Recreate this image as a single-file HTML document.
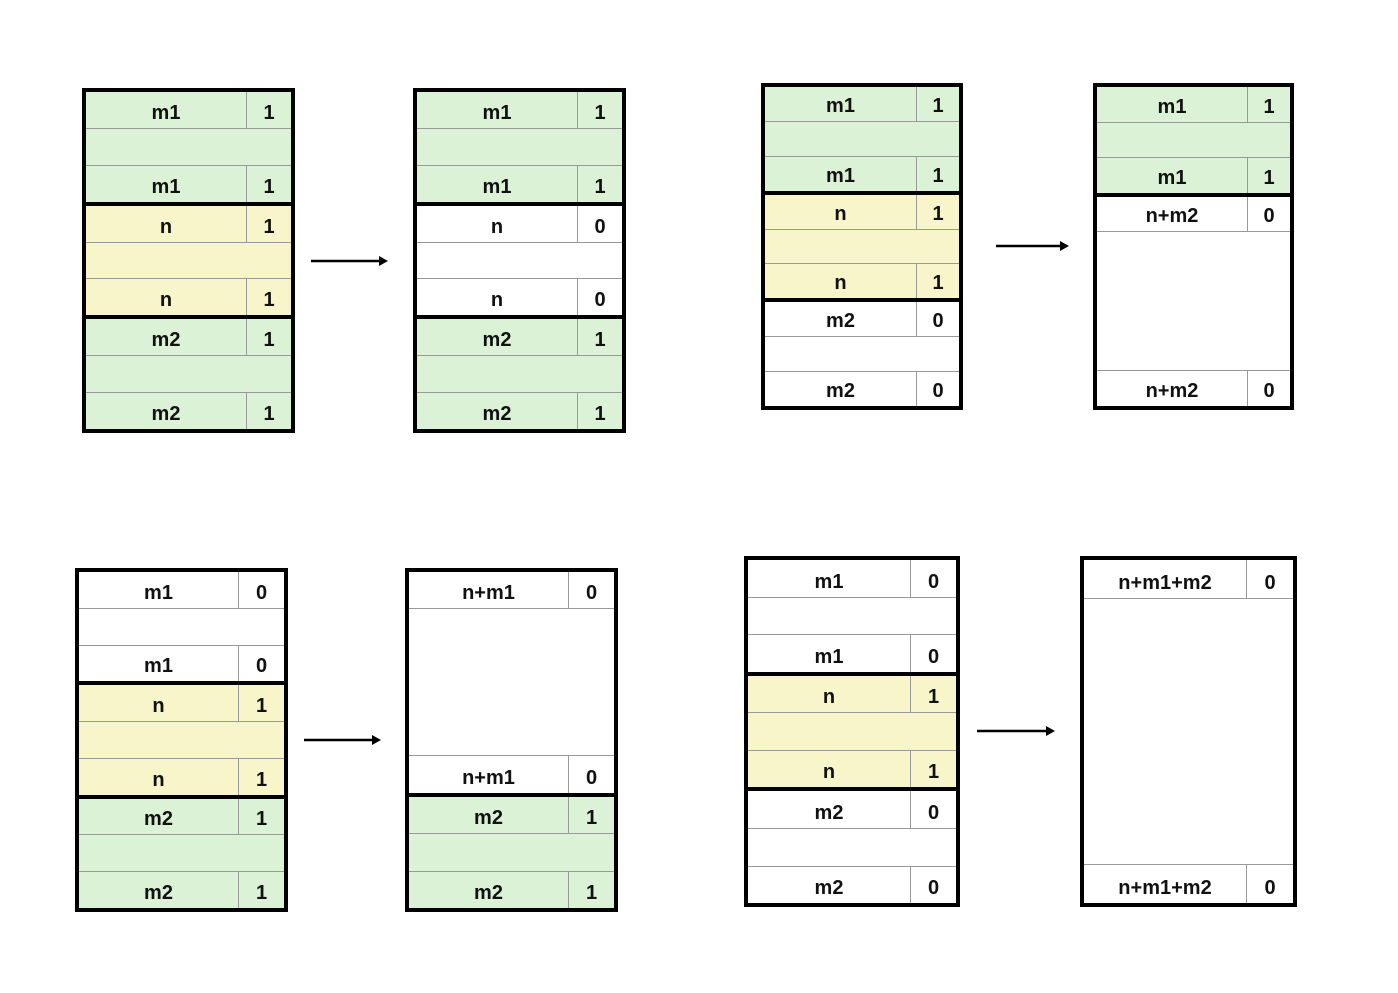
<!DOCTYPE html>
<html><head><meta charset="utf-8">
<style>
html,body{margin:0;padding:0;background:#fff;width:1398px;height:993px;overflow:hidden;position:relative;font-family:"Liberation Sans",sans-serif;}
.b{position:absolute;box-sizing:border-box;border:4px solid #000;display:flex;flex-direction:column;}
.r{flex:1 1 0;box-sizing:border-box;border-top:1px solid #999;display:flex;position:relative;font-weight:bold;font-size:20px;color:#111;}
.r:first-child{border-top:none;}
.r.t{border-top:4px solid #000;}
.r .a{flex:1;display:flex;align-items:flex-end;justify-content:center;padding-bottom:3px;box-sizing:border-box;}
.r .v{border-left:1px solid #999;display:flex;align-items:flex-end;justify-content:center;padding-bottom:3px;box-sizing:border-box;}
.g{background:#dcf2d7;}
.y{background:#f8f5cb;}
.w{background:#fff;}
svg{position:absolute;left:0;top:0;}
</style></head><body>

<!-- B1 -->
<div class="b" style="left:82px;top:88px;width:213px;height:345px;">
<div class="r g"><div class="a">m1</div><div class="v" style="width:45px">1</div></div>
<div class="r g"></div>
<div class="r g"><div class="a">m1</div><div class="v" style="width:45px">1</div></div>
<div class="r y t"><div class="a">n</div><div class="v" style="width:45px">1</div></div>
<div class="r y"></div>
<div class="r y"><div class="a">n</div><div class="v" style="width:45px">1</div></div>
<div class="r g t"><div class="a">m2</div><div class="v" style="width:45px">1</div></div>
<div class="r g"></div>
<div class="r g"><div class="a">m2</div><div class="v" style="width:45px">1</div></div>
</div>

<!-- B2 -->
<div class="b" style="left:413px;top:88px;width:213px;height:345px;">
<div class="r g"><div class="a">m1</div><div class="v" style="width:45px">1</div></div>
<div class="r g"></div>
<div class="r g"><div class="a">m1</div><div class="v" style="width:45px">1</div></div>
<div class="r w t"><div class="a">n</div><div class="v" style="width:45px">0</div></div>
<div class="r w"></div>
<div class="r w"><div class="a">n</div><div class="v" style="width:45px">0</div></div>
<div class="r g t"><div class="a">m2</div><div class="v" style="width:45px">1</div></div>
<div class="r g"></div>
<div class="r g"><div class="a">m2</div><div class="v" style="width:45px">1</div></div>
</div>

<!-- B3 -->
<div class="b" style="left:761px;top:83px;width:202px;height:327px;">
<div class="r g"><div class="a">m1</div><div class="v" style="width:43px">1</div></div>
<div class="r g"></div>
<div class="r g"><div class="a">m1</div><div class="v" style="width:43px">1</div></div>
<div class="r y t"><div class="a">n</div><div class="v" style="width:43px">1</div></div>
<div class="r y"></div>
<div class="r y"><div class="a">n</div><div class="v" style="width:43px">1</div></div>
<div class="r w t"><div class="a">m2</div><div class="v" style="width:43px">0</div></div>
<div class="r w"></div>
<div class="r w"><div class="a">m2</div><div class="v" style="width:43px">0</div></div>
</div>

<!-- B4 -->
<div class="b" style="left:1093px;top:83px;width:201px;height:327px;">
<div class="r g"><div class="a">m1</div><div class="v" style="width:43px">1</div></div>
<div class="r g"></div>
<div class="r g"><div class="a">m1</div><div class="v" style="width:43px">1</div></div>
<div class="r w t"><div class="a">n+m2</div><div class="v" style="width:43px">0</div></div>
<div class="r w" style="flex-grow:4"></div>
<div class="r w"><div class="a">n+m2</div><div class="v" style="width:43px">0</div></div>
</div>

<!-- B5 -->
<div class="b" style="left:75px;top:568px;width:213px;height:344px;">
<div class="r w"><div class="a">m1</div><div class="v" style="width:46px">0</div></div>
<div class="r w"></div>
<div class="r w"><div class="a">m1</div><div class="v" style="width:46px">0</div></div>
<div class="r y t"><div class="a">n</div><div class="v" style="width:46px">1</div></div>
<div class="r y"></div>
<div class="r y"><div class="a">n</div><div class="v" style="width:46px">1</div></div>
<div class="r g t"><div class="a">m2</div><div class="v" style="width:46px">1</div></div>
<div class="r g"></div>
<div class="r g"><div class="a">m2</div><div class="v" style="width:46px">1</div></div>
</div>

<!-- B6 -->
<div class="b" style="left:405px;top:568px;width:213px;height:344px;">
<div class="r w"><div class="a">n+m1</div><div class="v" style="width:46px">0</div></div>
<div class="r w" style="flex-grow:4"></div>
<div class="r w"><div class="a">n+m1</div><div class="v" style="width:46px">0</div></div>
<div class="r g t"><div class="a">m2</div><div class="v" style="width:46px">1</div></div>
<div class="r g"></div>
<div class="r g"><div class="a">m2</div><div class="v" style="width:46px">1</div></div>
</div>

<!-- B7 -->
<div class="b" style="left:744px;top:556px;width:216px;height:351px;">
<div class="r w"><div class="a">m1</div><div class="v" style="width:46px">0</div></div>
<div class="r w"></div>
<div class="r w"><div class="a">m1</div><div class="v" style="width:46px">0</div></div>
<div class="r y t"><div class="a">n</div><div class="v" style="width:46px">1</div></div>
<div class="r y"></div>
<div class="r y"><div class="a">n</div><div class="v" style="width:46px">1</div></div>
<div class="r w t"><div class="a">m2</div><div class="v" style="width:46px">0</div></div>
<div class="r w"></div>
<div class="r w"><div class="a">m2</div><div class="v" style="width:46px">0</div></div>
</div>

<!-- B8 -->
<div class="b" style="left:1080px;top:556px;width:217px;height:351px;">
<div class="r w"><div class="a">n+m1+m2</div><div class="v" style="width:47px">0</div></div>
<div class="r w" style="flex-grow:7"></div>
<div class="r w"><div class="a">n+m1+m2</div><div class="v" style="width:47px">0</div></div>
</div>

<svg width="1398" height="993">
<g stroke="#000" stroke-width="2.5" fill="#000">
<line x1="311" y1="261" x2="380" y2="261"/><polygon points="379,256 388,261 379,266" stroke="none"/>
<line x1="996" y1="246" x2="1061" y2="246"/><polygon points="1060,241 1069,246 1060,251" stroke="none"/>
<line x1="304" y1="740" x2="373" y2="740"/><polygon points="372,735 381,740 372,745" stroke="none"/>
<line x1="977" y1="731" x2="1047" y2="731"/><polygon points="1046,726 1055,731 1046,736" stroke="none"/>
</g>
</svg>
</body></html>
